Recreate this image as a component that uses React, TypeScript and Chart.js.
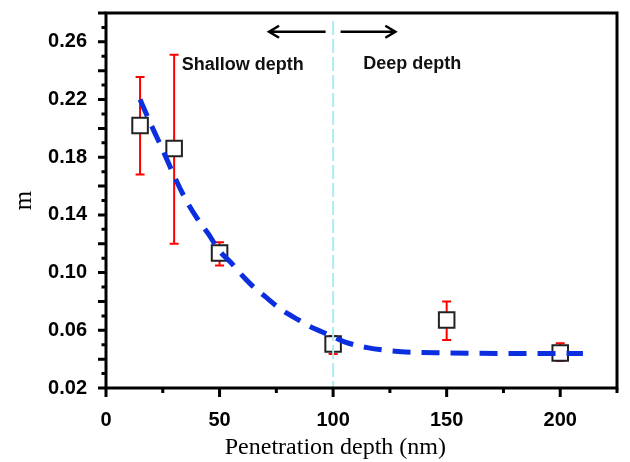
import React, { useEffect, useRef } from 'react';
import { Chart, registerables } from 'chart.js';

Chart.register(...registerables);

// ---- data ----
const depths = [15, 30, 50, 100, 150, 200];
const mValues = [0.202, 0.186, 0.1136, 0.0505, 0.0672, 0.0443];
const errHigh = [0.2357, 0.251, 0.121, 0.056, 0.08, 0.051];
const errLow = [0.168, 0.12, 0.105, 0.0436, 0.0533, 0.0387];

const fitX = [15, 20, 25, 30, 35, 40, 45, 50, 55, 60, 65, 70, 75, 80, 85, 90, 95, 100, 105, 115, 130, 150, 175, 210];
const fitY = [0.22, 0.202, 0.185, 0.167, 0.151, 0.138, 0.127, 0.115, 0.107, 0.098, 0.09, 0.0835, 0.077, 0.0715, 0.067, 0.0625, 0.059, 0.0555, 0.052, 0.048, 0.0452, 0.0443, 0.044, 0.044];

const xTickLabels = [0, 50, 100, 150, 200];
const yTickLabels = [0.02, 0.06, 0.1, 0.14, 0.18, 0.22, 0.26];

const boundaryDepth = 100;
const shallowLabel = 'Shallow depth';
const deepLabel = 'Deep depth';
const xTitle = 'Penetration depth (nm)';

const FONT_SANS = '"Liberation Sans", Arial, sans-serif';
const FONT_SERIF = '"Liberation Serif", "Times New Roman", serif';

const isMajor = (v: number, list: number[]) => list.some((t) => Math.abs(t - v) < 1e-6);

const decorPlugin = {
  id: 'decor',
  beforeDatasetsDraw(chart: any) {
    const { ctx, scales } = chart;
    const xs = scales.x;
    const ys = scales.y;
    ctx.save();
    ctx.strokeStyle = '#ff0000';
    ctx.lineWidth = 2;
    depths.forEach((d, i) => {
      const px = xs.getPixelForValue(d);
      const top = ys.getPixelForValue(errHigh[i]);
      const bot = ys.getPixelForValue(errLow[i]);
      ctx.beginPath();
      ctx.moveTo(px, top);
      ctx.lineTo(px, bot);
      ctx.moveTo(px - 4.5, top);
      ctx.lineTo(px + 4.5, top);
      ctx.moveTo(px - 4.5, bot);
      ctx.lineTo(px + 4.5, bot);
      ctx.stroke();
    });
    ctx.restore();
  },
  afterDatasetDraw(chart: any, args: any) {
    if (args.index !== 1) return;
    const { ctx, scales, chartArea } = chart;
    const px = scales.x.getPixelForValue(boundaryDepth);
    ctx.save();
    ctx.strokeStyle = '#aeeef2';
    ctx.lineWidth = 2;
    ctx.setLineDash([14, 4]);
    ctx.beginPath();
    ctx.moveTo(px, chartArea.top + 8);
    ctx.lineTo(px, chartArea.bottom);
    ctx.stroke();
    ctx.restore();
  },
  afterDraw(chart: any) {
    const { ctx, scales, chartArea } = chart;
    const xs = scales.x;
    const ys = scales.y;
    const { left, right, top, bottom } = chartArea;
    ctx.save();
    // frame
    ctx.strokeStyle = '#000';
    ctx.lineWidth = 3;
    ctx.strokeRect(left, top, right - left, bottom - top);
    // ticks
    ctx.beginPath();
    xs.ticks.forEach((t: any) => {
      const px = xs.getPixelForValue(t.value);
      const len = isMajor(t.value, xTickLabels) ? 9 : 5;
      ctx.moveTo(px, bottom);
      ctx.lineTo(px, bottom + len);
    });
    ys.ticks.forEach((t: any) => {
      const py = ys.getPixelForValue(t.value);
      const even = Math.round(t.value * 100) % 2 === 0;
      const len = even ? 8 : 4.5;
      ctx.moveTo(left, py);
      ctx.lineTo(left - len, py);
    });
    ctx.stroke();

    // arrows
    const ay = ys.getPixelForValue(0.267);
    const drawArrow = (fromV: number, toV: number) => {
      const x0 = xs.getPixelForValue(fromV);
      const x1 = xs.getPixelForValue(toV);
      const dir = x1 > x0 ? 1 : -1;
      ctx.beginPath();
      ctx.moveTo(x0, ay);
      ctx.lineTo(x1, ay);
      ctx.moveTo(x1 - dir * 10, ay - 6);
      ctx.lineTo(x1, ay);
      ctx.lineTo(x1 - dir * 10, ay + 6);
      ctx.stroke();
    };
    ctx.lineWidth = 2.5;
    drawArrow(96.7, 71.8);
    drawArrow(103.3, 127.4);

    // region labels
    ctx.fillStyle = '#111';
    ctx.font = `bold 18px ${FONT_SANS}`;
    ctx.textAlign = 'left';
    ctx.textBaseline = 'middle';
    ctx.fillText(shallowLabel, xs.getPixelForValue(33.3), ys.getPixelForValue(0.244));
    ctx.fillText(deepLabel, xs.getPixelForValue(113.3), ys.getPixelForValue(0.2447));

    // x-axis title
    ctx.fillStyle = '#000';
    ctx.font = `24px ${FONT_SERIF}`;
    ctx.textAlign = 'center';
    ctx.textBaseline = 'alphabetic';
    ctx.fillText(xTitle, xs.getPixelForValue(101), 454);
    ctx.restore();
  },
};

export default function App() {
  const canvasRef = useRef<HTMLCanvasElement | null>(null);

  useEffect(() => {
    document.body.style.margin = '0';
    const canvas = canvasRef.current;
    if (!canvas) return;
    const chart = new Chart(canvas, {
      type: 'scatter',
      data: {
        datasets: [
          {
            type: 'line',
            data: fitX.map((x, i) => ({ x, y: fitY[i] })),
            borderColor: '#0b2fe0',
            borderWidth: 5,
            borderDash: [18, 11],
            borderCapStyle: 'butt',
            pointRadius: 0,
            fill: false,
            cubicInterpolationMode: 'monotone',
          } as any,
          {
            type: 'scatter',
            data: depths.map((x, i) => ({ x, y: mValues[i] })),
            pointStyle: 'rect',
            pointRadius: 11,
            pointBorderWidth: 2,
            pointBorderColor: '#222',
            pointBackgroundColor: '#fff',
            borderColor: '#222',
            backgroundColor: '#fff',
          } as any,
        ],
      },
      options: {
        animation: false,
        responsive: false,
        devicePixelRatio: 1,
        layout: { padding: { top: 13, right: 9, left: 0, bottom: 0 } },
        plugins: {
          legend: { display: false },
          tooltip: { enabled: false },
        },
        scales: {
          x: {
            type: 'linear',
            min: 0,
            max: 225,
            afterFit: (s: any) => {
              s.height = 74;
              s.paddingLeft = 0;
              s.paddingRight = 0;
            },
            grid: { display: true, drawOnChartArea: false, drawTicks: true, tickLength: 8, color: 'rgba(0,0,0,0)' },
            border: { display: false },
            ticks: {
              stepSize: 25,
              autoSkip: false,
              maxRotation: 0,
              padding: 12,
              color: '#000',
              font: { family: FONT_SANS, size: 20, weight: 'bold' },
              callback: (v: any) => (isMajor(Number(v), xTickLabels) ? String(Math.round(Number(v))) : ''),
            },
            title: { display: false },
          },
          y: {
            type: 'linear',
            min: 0.02,
            max: 0.28,
            afterFit: (s: any) => {
              s.width = 106;
              s.paddingTop = 0;
              s.paddingBottom = 0;
            },
            grid: { display: true, drawOnChartArea: false, drawTicks: true, tickLength: 8, color: 'rgba(0,0,0,0)' },
            border: { display: false },
            ticks: {
              stepSize: 0.01,
              autoSkip: false,
              padding: 11,
              color: '#000',
              font: { family: FONT_SANS, size: 20, weight: 'bold' },
              callback: (v: any) => (isMajor(Number(v), yTickLabels) ? Number(v).toFixed(2) : ''),
            },
            title: {
              display: true,
              text: 'm',
              color: '#000',
              font: { family: FONT_SERIF, size: 25, weight: 'normal' },
              padding: { top: 9, bottom: 0 },
            },
          },
        },
      } as any,
      plugins: [decorPlugin],
    });
    return () => chart.destroy();
  }, []);

  return <canvas ref={canvasRef} width={630} height={462} style={{ display: 'block' }} />;
}
